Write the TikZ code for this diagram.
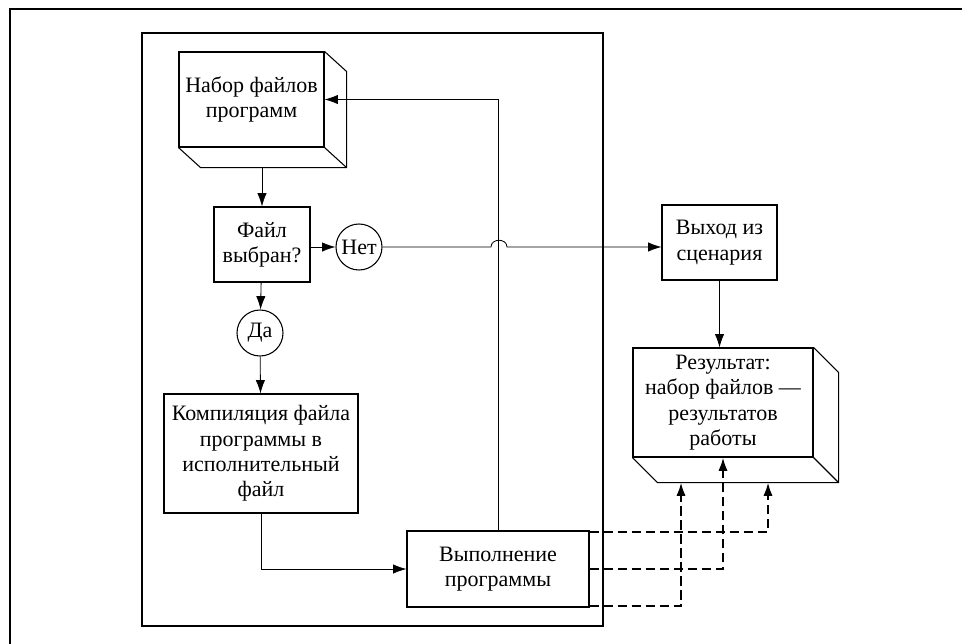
\documentclass[tikz,border=0pt]{standalone}
\usepackage{fontspec}
\setmainfont{Liberation Serif}
\usetikzlibrary{arrows.meta}

\begin{document}
\begin{tikzpicture}[x=0.75pt,y=-0.75pt,
   every node/.style={font=\fontsize{16.5}{19}\selectfont,align=center,inner sep=0pt},
   block/.style={draw,line width=0.8pt},
   ring/.style={draw,circle,line width=0.8pt,minimum size=34.5pt},
   arr/.style={-{Latex[length=10pt,width=7pt]},line width=0.6pt},
   dasharr/.style={arr,line width=1.6pt,dash pattern=on 7pt off 3.5pt}]
\useasboundingbox (0,0) rectangle (962,643);
\draw[line width=1.1pt] (10,660) -- (10,9) -- (980,9);
\draw[line width=1.3pt] (142,33) rectangle (603,626);

\node[block,minimum width=108.75pt,minimum height=71.25pt] (prog) at (251.5,99.5) {Набор файлов\\программ};
\draw[block] (prog.north east) -- ++(22,20) |- ([shift={(22,20)}]prog.south west) -- (prog.south west)
   (prog.south east) -- ++(22,20);
\coordinate (progbot) at ([shift={(22,20)}]prog.south west);

\node[block,minimum width=72pt,minimum height=56.25pt] (chosen) at (262,244.5) {Файл\\выбран?};
\node[ring] (no) at (359,247) {Нет};
\node[ring] (yes) at (260,333) {Да};
\node[block,minimum width=145.5pt,minimum height=89.25pt] (compile) at (261,453.5) {Компиляция файла\\программы в\\исполнительный\\файл};
\node[block,minimum width=136.5pt,minimum height=57pt] (exec) at (498,569) {Выполнение\\программы};
\node[block,minimum width=86.25pt,minimum height=56.25pt] (exit) at (719.5,242.5) {Выход из\\сценария};

\node[block,minimum width=135pt,minimum height=81.75pt] (result) at (723,402.5) {Результат:\\набор файлов~---\\результатов\\работы};
\draw[block] (result.north east) -- ++(25,25) |- ([shift={(25,25)}]result.south west) -- (result.south west)
   (result.south east) -- ++(25,25);
\coordinate (res1) at ([shift={(-42,25)}]result.south);
\coordinate (res3) at ([shift={(45,25)}]result.south);

\coordinate (jumpl) at (491,247);
\coordinate (jumpr) at (507,247);

\draw[arr] (progbot -| chosen.north) -- (chosen);
\draw[arr] (chosen.east |- no) -- (no);
\draw[arr] (chosen) -- (yes);
\draw[arr] (yes) -- (compile);
\draw[arr] (compile.south) |- (exec.west);
\draw[arr] (exec.north) |- (prog.east);
\draw[arr] (no) -- (jumpl) .. controls +(0,-9) and +(0,-9) .. (jumpr) -- (exit.west |- no);
\draw[arr] (exit.south) -- (exit.south |- result.north);

\draw[dasharr] ([yshift=-28]exec.east) -| (res1);
\draw[dasharr] (exec.east) -| (result.south);
\draw[dasharr] ([yshift=28]exec.east) -| (res3);
\end{tikzpicture}
\end{document}
